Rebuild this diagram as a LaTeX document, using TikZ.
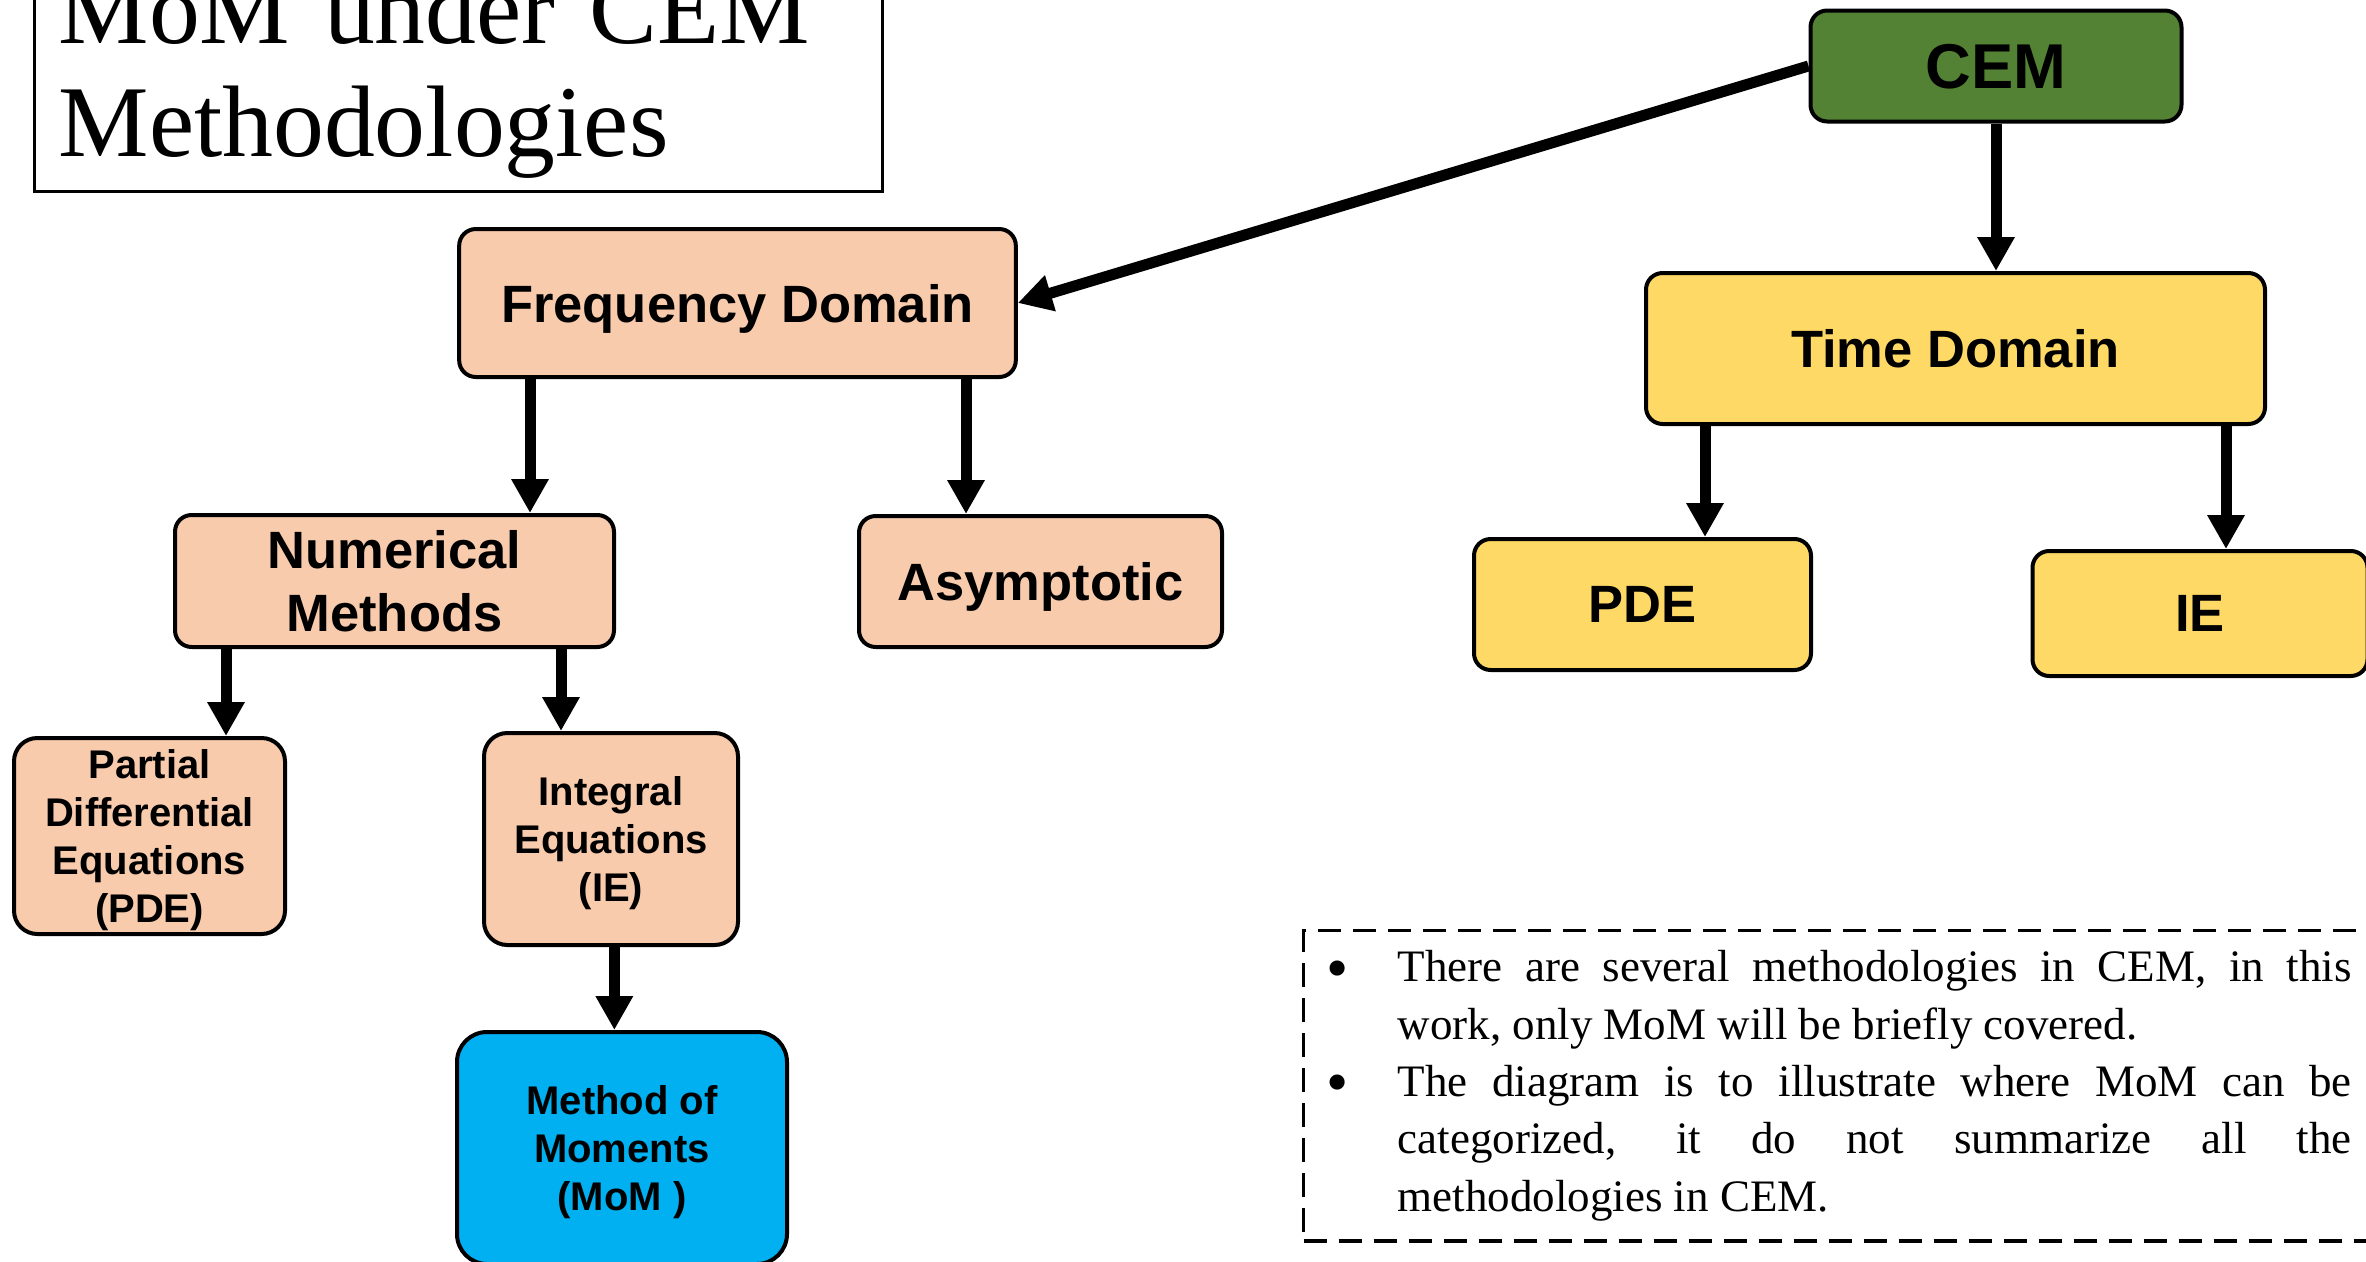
\documentclass[tikz,border=0pt]{standalone}
\usepackage{fontspec}
\setmainfont{Liberation Serif}
\setsansfont{Liberation Sans}
\usepackage{tikz}
\usetikzlibrary{positioning, arrows.meta, calc}

\definecolor{cemgreen}{RGB}{84,130,53}
\definecolor{freqpeach}{RGB}{248,203,173}
\definecolor{timeyellow}{RGB}{255,217,102}
\definecolor{momblue}{RGB}{0,176,240}

\begin{document}
\begin{tikzpicture}[x=0.3pt, y=-0.3pt,
box/.style={rectangle, draw, line width=1.2pt, rounded corners=5pt, align=center, inner sep=0pt, text depth=0pt, font=\sffamily\bfseries\fontsize{15.75}{19}\selectfont},
small/.style={box, rounded corners=7pt, font=\sffamily\bfseries\fontsize{12}{14.4}\selectfont},
freq/.style={box, fill=freqpeach},
time/.style={box, fill=timeyellow},
arr/.style={-{Triangle[width=10.6pt,length=10.2pt]}, line width=3.3pt}]
    \useasboundingbox (0,0) rectangle (2366,1262);

    % title
    \node[draw, line width=1pt, anchor=south west, inner xsep=7.2pt, inner ysep=3.8pt, text width=240pt, align=left, font=\fontsize{30.5}{34}\selectfont] (title) at (33,193) {MoM under CEM\\Methodologies};

    \node[box, fill=cemgreen, minimum width=111.3pt, minimum height=33.3pt, font=\sffamily\bfseries\fontsize{19}{23}\selectfont] (cem) at (1996,66) {CEM};
    \node[freq, minimum width=167pt, minimum height=44.4pt] (fd) at (737.5,303) {Frequency Domain};
    \node[time, minimum width=185.7pt, minimum height=45.3pt] (td) at (1955.5,348.5) {Time Domain};

    \node[freq, minimum width=131.7pt, minimum height=39.6pt] (num) at (394.5,581) {Numerical\\Methods};
    \node[freq, minimum width=108.9pt, minimum height=39.3pt] (asym) at (1040.5,581.5) {Asymptotic};
    \node[time, minimum width=101.1pt, minimum height=39.3pt] (pde) at (1642.5,604.5) {PDE};
    \node[time, minimum width=100.5pt, minimum height=37.5pt] (ie) at (2200,613.5) {IE};

    \node[small, fill=freqpeach, minimum width=81.3pt, minimum height=58.8pt] (pdeq) at (149.5,836) {Partial\\Differential\\Equations\\(PDE)};
    \node[small, fill=freqpeach, minimum width=76.2pt, minimum height=63.6pt] (inteq) at (611,839) {Integral\\Equations\\(IE)};
    \node[small, fill=momblue, rounded corners=9pt, minimum width=99pt, minimum height=69.6pt] (mom) at (622,1148) {Method of\\Moments\\(MoM )};

    \draw[arr] (cem.west) -- (fd.east);
    \draw[arr] (cem.south) -- (cem.south |- td.north);
    \draw[arr] ([xshift=-62.25pt]fd.south) -- ([xshift=-62.25pt]fd.south |- num.north);
    \draw[arr] ([xshift=68.55pt]fd.south) -- ([xshift=68.55pt]fd.south |- asym.north);
    \draw[arr] ([xshift=-75.15pt]td.south) -- ([xshift=-75.15pt]td.south |- pde.north);
    \draw[arr] ([xshift=81.15pt]td.south) -- ([xshift=81.15pt]td.south |- ie.north);
    \draw[arr] ([xshift=-50.55pt]num.south) -- ([xshift=-50.55pt]num.south |- pdeq.north);
    \draw[arr] ([xshift=49.95pt]num.south) -- ([xshift=49.95pt]num.south |- inteq.north);
    \draw[arr] ([xshift=1pt]inteq.south) -- ([xshift=1pt]inteq.south |- mom.north);

    % note
    \node[draw, dash pattern=on 7pt off 3.5pt, line width=1pt, anchor=north west, inner xsep=6.9pt, inner ysep=6pt, text width=307.5pt, align=justify, font=\fontsize{13.5}{17.2}\selectfont] (note) at (1302,929) {\hyphenpenalty=10000\tolerance=10000\hbadness=10000
      \noindent\hangindent=21.3pt\hangafter=1\makebox[21.3pt][l]{\raisebox{-2.2pt}{\fontsize{19}{17}\selectfont\textbullet}}There are several methodologies in CEM, in this\linebreak work, only MoM will be briefly covered.\par
      \noindent\hangindent=21.3pt\hangafter=1\makebox[21.3pt][l]{\raisebox{-2.2pt}{\fontsize{19}{17}\selectfont\textbullet}}The diagram is to illustrate where MoM can be\linebreak categorized, it do not summarize all the\linebreak methodologies in CEM.\par};
\end{tikzpicture}
\end{document}
